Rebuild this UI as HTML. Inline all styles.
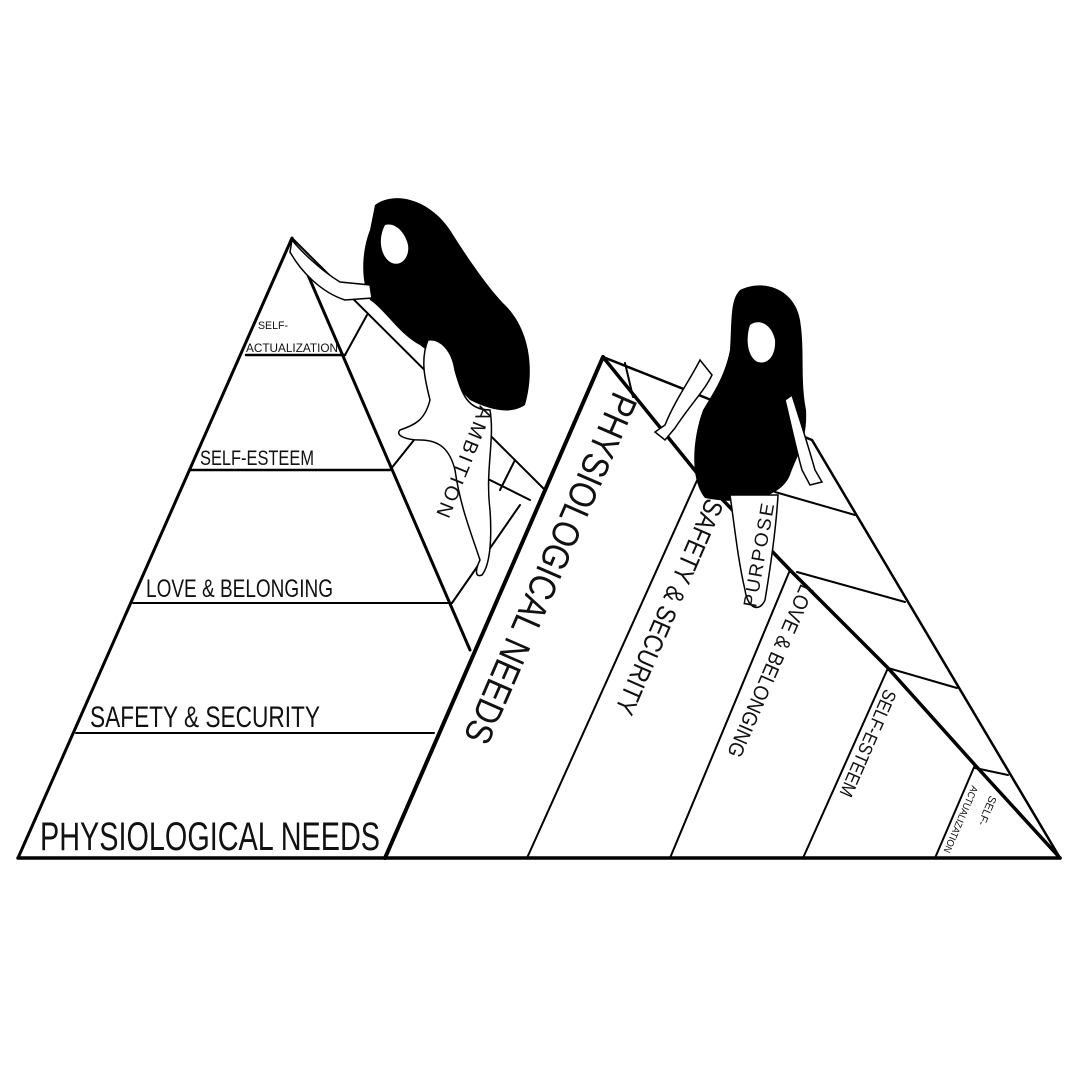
<!DOCTYPE html>
<html><head><meta charset="utf-8"><style>
html,body{margin:0;padding:0;background:#fff}
svg{display:block}
text{font-family:"Liberation Sans",sans-serif;fill:#111}
</style></head><body>
<svg width="1080" height="1080" viewBox="0 0 1080 1080" xmlns="http://www.w3.org/2000/svg">
<g stroke="#000" fill="none" stroke-linecap="round" stroke-linejoin="round">
<polyline points="18,858 292,238 470,650" stroke-width="3"/>
<line x1="246" y1="355" x2="345" y2="355" stroke-width="2.5"/>
<line x1="190" y1="470" x2="390" y2="470" stroke-width="2.5"/>
<line x1="133" y1="603" x2="452" y2="603" stroke-width="2"/>
<line x1="76" y1="733" x2="434" y2="733" stroke-width="2"/>
<line x1="292" y1="238" x2="545" y2="490" stroke-width="2"/>
<line x1="345" y1="355" x2="367" y2="315" stroke-width="2"/>
<line x1="390" y1="470" x2="430" y2="420" stroke-width="2"/>
<line x1="452" y1="603" x2="520" y2="505" stroke-width="2"/>
<line x1="470" y1="470" x2="530" y2="500" stroke-width="2"/>
<line x1="515" y1="460" x2="500" y2="490" stroke-width="2"/>
<line x1="18" y1="858" x2="1060" y2="858" stroke-width="3.5"/>
<polyline points="385,858 603,357" stroke-width="4"/>
<polyline points="603,357 812,440 1060,858" stroke-width="2.5"/>
<polyline points="603,357 697,473 790,570 888,668 975,765 1060,858" stroke-width="3.5"/>
<line x1="527" y1="858" x2="699" y2="476" stroke-width="2"/>
<line x1="670" y1="858" x2="790" y2="570" stroke-width="2"/>
<line x1="803" y1="858" x2="888" y2="668" stroke-width="2"/>
<line x1="935" y1="858" x2="975" y2="765" stroke-width="2"/>
<line x1="625" y1="363" x2="633" y2="397" stroke-width="2"/>
<line x1="775" y1="492" x2="855" y2="515" stroke-width="2"/>
<line x1="797" y1="572" x2="905" y2="602" stroke-width="2"/>
<line x1="888" y1="668" x2="957" y2="688" stroke-width="2"/>
<line x1="975" y1="768" x2="1008" y2="775" stroke-width="2"/>
</g>

<g>
<path d="M375,205 C395,190 430,200 450,230 C470,262 490,290 505,305 C530,330 535,370 525,405 C510,415 490,410 470,400 C450,380 440,360 420,345 C400,335 385,310 370,300 C360,280 362,250 370,230 Z" fill="#000"/>
<path d="M385,225 C395,222 405,232 408,245 C410,258 400,268 390,262 C380,255 378,238 385,225 Z" fill="#fff"/>
<path d="M292,240 C300,250 320,270 340,282 L370,285 L372,298 L345,300 C320,292 300,270 290,252 Z" fill="#fff" stroke="#000" stroke-width="1.5"/>
<path d="M428,340 C440,338 452,350 455,370 C462,395 468,410 490,410 C495,440 485,470 490,510 C492,540 490,565 482,575 C475,578 475,570 480,560 C470,530 460,505 455,470 C450,450 440,440 420,440 C405,440 395,435 400,430 C415,425 425,420 430,400 C425,380 420,360 428,340 Z" fill="#fff" stroke="#000" stroke-width="1.5"/>
<text transform="translate(480,405) rotate(112)" font-size="20" letter-spacing="3">AMBITION</text>
</g>

<g>
<path d="M740,290 C765,278 795,290 800,320 C805,350 800,380 806,410 C808,440 795,460 790,475 C780,500 740,505 705,498 C690,480 692,440 703,410 C715,390 725,375 730,350 C732,320 730,300 740,290 Z" fill="#000"/>
<path d="M750,325 C760,318 772,325 775,340 C776,355 768,365 758,362 C748,358 745,340 750,325 Z" fill="#fff"/>
<path d="M700,360 C690,380 675,400 665,425 L655,432 L665,440 L675,428 C690,405 705,390 712,375 Z" fill="#fff" stroke="#000" stroke-width="1.5"/>
<path d="M792,395 C800,420 808,445 815,470 L822,482 L810,485 L802,470 C795,445 790,420 785,400 Z" fill="#fff" stroke="#000" stroke-width="1.5"/>
<path d="M730,495 C735,530 738,560 745,590 C748,610 760,612 765,600 C770,570 776,530 778,495 Z" fill="#fff" stroke="#000" stroke-width="1.5"/>
<text transform="translate(756,608) rotate(-80)" font-size="19" letter-spacing="2">PURPOSE</text>
</g>

<text x="258" y="329" font-size="11" textLength="30" lengthAdjust="spacingAndGlyphs">SELF-</text>
<text x="246" y="352" font-size="12" textLength="92" lengthAdjust="spacingAndGlyphs">ACTUALIZATION</text>
<text x="200" y="465" font-size="21" textLength="114" lengthAdjust="spacingAndGlyphs">SELF-ESTEEM</text>
<text x="146" y="597" font-size="25" textLength="187" lengthAdjust="spacingAndGlyphs">LOVE &amp; BELONGING</text>
<text x="90" y="727" font-size="30" textLength="230" lengthAdjust="spacingAndGlyphs">SAFETY &amp; SECURITY</text>
<text x="40" y="850" font-size="40" textLength="340" lengthAdjust="spacingAndGlyphs">PHYSIOLOGICAL NEEDS</text>

<text transform="translate(614,390) rotate(113.5)" font-size="38" textLength="378" lengthAdjust="spacingAndGlyphs">PHYSIOLOGICAL NEEDS</text>
<text transform="translate(707,497) rotate(113.5)" font-size="27" textLength="232" lengthAdjust="spacingAndGlyphs">SAFETY &amp; SECURITY</text>
<text transform="translate(801,583) rotate(113.5)" font-size="21" textLength="186" lengthAdjust="spacingAndGlyphs">LOVE &amp; BELONGING</text>
<text transform="translate(885,688) rotate(113.5)" font-size="19" textLength="115" lengthAdjust="spacingAndGlyphs">SELF-ESTEEM</text>
<text transform="translate(990,795) rotate(113.5)" font-size="11">SELF-</text>
<text transform="translate(972,785) rotate(113.5)" font-size="10" textLength="72" lengthAdjust="spacingAndGlyphs">ACTUALIZATION</text>
</svg>
</body></html>
